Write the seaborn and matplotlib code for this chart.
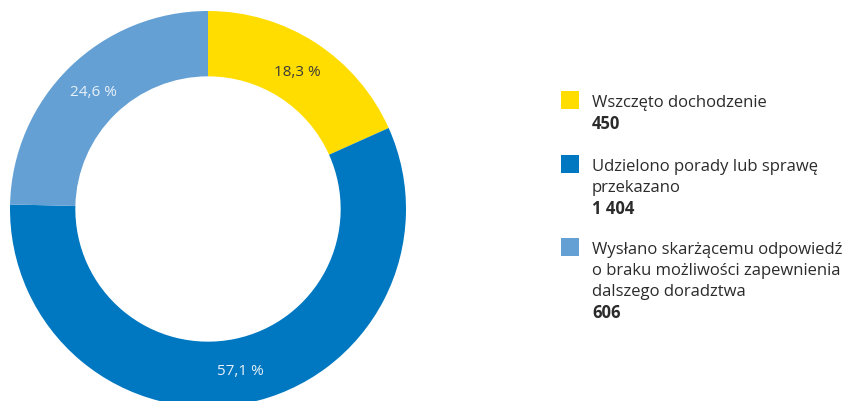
import matplotlib
matplotlib.use("Agg")
import matplotlib.pyplot as plt
import seaborn as sns
import numpy as np
from matplotlib.patches import Rectangle

sns.set_theme(style="white")
plt.rcParams['font.family'] = ['Open Sans', 'DejaVu Sans']

categories = ["Wszczęto dochodzenie",
              "Udzielono porady lub sprawę\nprzekazano",
              "Wysłano skarżącemu odpowiedź\no braku możliwości zapewnienia\ndalszego doradztwa"]
counts = [450, 1404, 606]
count_labels = ["450", "1 404", "606"]
pct_labels = ["18,3 %", "57,1 %", "24,6 %"]
colors = sns.color_palette(["#FFDD00", "#0078C1", "#64A0D4"])
pct_colors = ["#3a3a3a", "#e8f0f8", "#e8f0f8"]

W, H = 850, 402
fig = plt.figure(figsize=(W / 100, H / 100), dpi=100)
fig.patch.set_facecolor("white")

cx, cy, R = 208, 210, 198
ax = fig.add_axes([(cx - R) / W, (H - cy - R) / H, 2 * R / W, 2 * R / H])
wedges, _ = ax.pie(counts, colors=colors, startangle=90, counterclock=False,
                   radius=1, wedgeprops=dict(width=0.33, linewidth=0))
ax.set_xlim(-1, 1)
ax.set_ylim(-1, 1)
ax.set_aspect("equal")
ax.axis("off")

for w, lab, c in zip(wedges, pct_labels, pct_colors):
    ang = np.deg2rad((w.theta1 + w.theta2) / 2)
    r = 0.83
    ax.text(r * np.cos(ang), r * np.sin(ang), lab, ha="center", va="center",
            fontsize=11, color=c)

# legend
sq_x, sq_w = 561, 18
text_x = 592
line_h = 21
group_tops = [92, 156, 239]
for top, cat, cnt, col in zip(group_tops, categories, count_labels, colors):
    fig.patches.append(Rectangle((sq_x / W, (H - top - sq_w) / H), sq_w / W, sq_w / H,
                                 transform=fig.transFigure, facecolor=col,
                                 edgecolor="none"))
    lines = cat.split("\n")
    y = top + 11
    for ln in lines:
        fig.text(text_x / W, (H - y) / H, ln, ha="left", va="center",
                 fontsize=12, color="#2b2b2b")
        y += line_h
    fig.text(text_x / W, (H - y) / H, cnt, ha="left", va="center",
             fontsize=12, color="#2b2b2b", fontweight="bold")

fig.savefig("out.png", dpi=100, facecolor="white")
